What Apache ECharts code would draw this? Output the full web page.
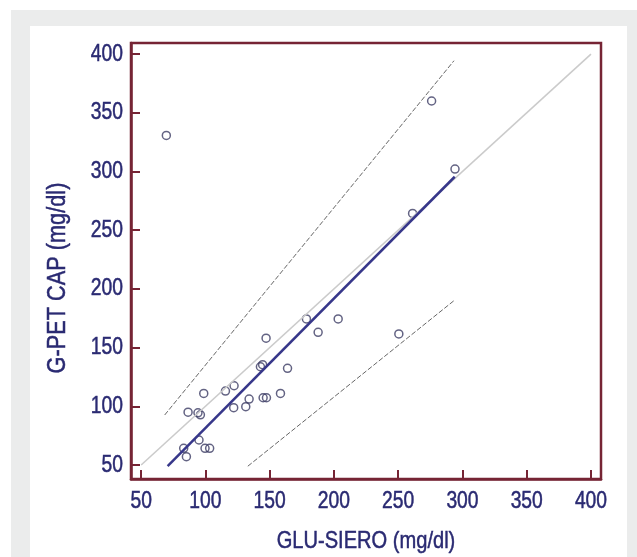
<!DOCTYPE html>
<html>
<head>
<meta charset="utf-8">
<script src="https://cdn.jsdelivr.net/npm/echarts@6/dist/echarts.min.js"></script>
<style>
  html, body { margin: 0; padding: 0; background: #fff; }
  #frame { position: absolute; left: 11px; top: 10px; width: 626px; height: 547px; background: #ebecec; }
  #panel { position: absolute; left: 30px; top: 26px; width: 597px; height: 531px; background: #fff; }
  #chart { position: absolute; left: 0; top: 0; width: 637px; height: 557px; }
</style>
</head>
<body>
<div id="frame"></div>
<div id="panel"></div>
<div id="chart"></div>
<script>
  // Arial-like face squeezed horizontally to get the narrow look of the original
  const FONT = '"Liberation Sans", Arial, sans-serif';
  const NARROW = 0.82;
  const AXIS_RED = '#762434';
  const TEXT_BLUE = '#2a2a72';

  const X_MIN = 42.1, X_MAX = 407.8;
  const Y_MIN = 38.1, Y_MAX = 409.4;

  // tick labels
  const xTicks = [50, 100, 150, 200, 250, 300, 350, 400];
  const yTicks = [50, 100, 150, 200, 250, 300, 350, 400];

  // GLU-SIERO vs G-PET CAP (mg/dl)
  const gluSiero = [69.6, 276, 294.2, 261.2, 250.5, 147.2, 178.6, 203.3, 187.7, 142.8, 144.5,
    163.9, 98.7, 115.6, 122.3, 158.4, 144.9, 147.5, 134, 131.4, 122, 86.5, 94.2, 96.1,
    95, 99.7, 103.3, 83.1, 85.2];
  const gPetCap = [330.7, 360, 302, 264.3, 161.6, 158, 174.4, 174.4, 163, 133.7, 135.5,
    132.4, 111, 113, 117.5, 111, 107.3, 107.3, 106.2, 99.7, 98.8, 95, 94.5, 92.8,
    71.3, 64.2, 64.2, 64.2, 57.1];

  // line endpoints [x, y]
  const identityLine = [[50, 50], [400, 400]];
  const regressionLine = [[70.6, 49], [294, 295.5]];
  const upperLimit = [[68.3, 92.6], [293.4, 394.3]];
  const lowerLimit = [[133, 49], [294, 190.5]];

  const chart = echarts.init(document.getElementById('chart'), null, { renderer: 'canvas' });

  const axisCommon = {
    type: 'value',
    splitLine: { show: false },
    axisLine: { show: true, onZero: false, lineStyle: { color: AXIS_RED, width: 2.5 } },
    axisLabel: { show: false }
  };
  const tickStyle = { show: true, inside: true, length: 9, lineStyle: { color: AXIS_RED, width: 2 } };

  const textStyle = (size) => ({
    font: size + 'px ' + FONT,
    fill: TEXT_BLUE,
    stroke: TEXT_BLUE,
    lineWidth: 0.5,
    align: 'center',
    verticalAlign: 'middle'
  });

  // tick label drawn at a data point, squeezed like the original font
  function tickLabel(dx, dy, align) {
    return function (params, api) {
      const p = api.coord([api.value(0), api.value(1)]);
      return {
        type: 'text',
        x: p[0] + dx,
        y: p[1] + dy,
        scaleX: NARROW,
        silent: true,
        style: { ...textStyle(23.5), text: String(api.value(2)), align: align }
      };
    };
  }

  chart.setOption({
    animation: false,
    backgroundColor: 'transparent',
    grid: {
      left: 131, right: 36, top: 43, bottom: 78,
      show: true, borderColor: AXIS_RED, borderWidth: 2.5, backgroundColor: 'transparent'
    },
    xAxis: {
      ...axisCommon,
      min: X_MIN, max: X_MAX,
      axisTick: { ...tickStyle, customValues: xTicks }
    },
    yAxis: {
      ...axisCommon,
      min: Y_MIN, max: Y_MAX,
      axisTick: { ...tickStyle, customValues: yTicks }
    },
    graphic: [
      {
        type: 'text',
        x: 366, y: 541,
        scaleX: NARROW,
        style: { ...textStyle(24.5), text: 'GLU-SIERO (mg/dl)' }
      },
      {
        type: 'text',
        x: 58, y: 278,
        rotation: Math.PI / 2,
        scaleX: NARROW,
        style: { ...textStyle(26.5), text: 'G-PET CAP (mg/dl)' }
      }
    ],
    series: [
      {
        type: 'line', data: identityLine, symbol: 'none', silent: true,
        lineStyle: { color: '#cbcbcb', width: 1.6 }
      },
      {
        type: 'line', data: upperLimit, symbol: 'none', silent: true,
        lineStyle: { color: '#666', width: 1, type: [5, 2] }
      },
      {
        type: 'line', data: lowerLimit, symbol: 'none', silent: true,
        lineStyle: { color: '#666', width: 1, type: [5, 2] }
      },
      {
        type: 'line', data: regressionLine, symbol: 'none', silent: true,
        lineStyle: { color: '#37378a', width: 2.5 }
      },
      {
        type: 'scatter',
        data: gluSiero.map((x, i) => [x, gPetCap[i]]),
        symbol: 'circle',
        symbolSize: 8,
        itemStyle: { color: 'rgba(255,255,255,0)', borderColor: '#3c3c64', borderWidth: 1.5 }
      },
      {
        type: 'custom', silent: true, clip: false,
        data: xTicks.map((v) => [v, Y_MIN, v]),
        renderItem: tickLabel(0, 23, 'center')
      },
      {
        type: 'custom', silent: true, clip: false,
        data: yTicks.map((v) => [X_MIN, v, v]),
        renderItem: tickLabel(-8, 0, 'right')
      }
    ]
  });
</script>
</body>
</html>
